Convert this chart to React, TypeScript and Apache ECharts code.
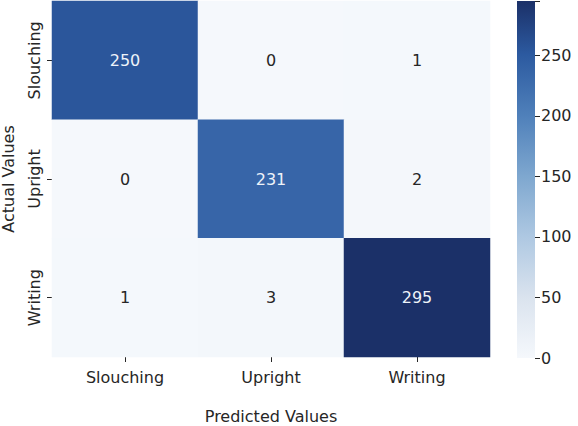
import React, { useEffect, useRef } from "react";
import * as echarts from "echarts";

const categories = ["Slouching", "Upright", "Writing"];
// rows = actual, columns = predicted
const matrix = [
  [250, 0, 1],
  [0, 231, 2],
  [1, 3, 295],
];
const colorMin = 0;
const colorMax = 295;
const colorTicks = [0, 50, 100, 150, 200, 250];
const colorStops = [0, 0.17, 0.34, 0.51, 0.68, 0.85, 1];
const colorValues = ["#f5f8fc", "#dae3ee", "#aec8e2", "#7ea7cf", "#4f80ba", "#2c5aa0", "#1b3068"];

export default function App() {
  const ref = useRef<HTMLDivElement>(null);
  useEffect(() => {
    if (!ref.current) return;
    const chart = echarts.init(ref.current, undefined, { renderer: "svg" });
    const data: any[] = [];
    matrix.forEach((row, r) => {
      row.forEach((v, c) => {
        data.push({
          value: [c, r, v],
          label: { color: v > colorMax / 2 ? "#eef3f9" : "#262626" },
        });
      });
    });
    const font = "DejaVu Sans";
    const textColor = "#262626";
    chart.setOption({
      animation: false,
      backgroundColor: "#ffffff",
      textStyle: { fontFamily: font },
      grid: [
        { left: 52, top: 1, width: 438, height: 356, outerBoundsMode: "none", containLabel: false },
        { left: 517, top: 1, width: 18, height: 357, outerBoundsMode: "none", containLabel: false },
      ],
      xAxis: [
        {
          type: "category",
          gridIndex: 0,
          data: categories,
          name: "Predicted Values",
          nameLocation: "middle",
          nameGap: 51,
          nameTextStyle: { fontFamily: font, fontSize: 16, color: textColor },
          axisLine: { show: false },
          axisTick: { show: true, alignWithLabel: true, length: 5, lineStyle: { color: textColor } },
          axisLabel: { fontFamily: font, fontSize: 16, color: textColor, margin: 12 },
          splitLine: { show: false },
        },
        {
          type: "category",
          gridIndex: 1,
          data: [""],
          show: false,
        },
      ],
      yAxis: [
        {
          type: "category",
          gridIndex: 0,
          data: categories,
          inverse: true,
          name: "Actual Values",
          nameLocation: "middle",
          nameGap: 36,
          nameRotate: 90,
          nameTextStyle: { fontFamily: font, fontSize: 16, color: textColor },
          axisLine: { show: false },
          axisTick: { show: true, alignWithLabel: true, length: 5, lineStyle: { color: textColor } },
          axisLabel: { fontFamily: font, fontSize: 16, color: textColor, rotate: 90, margin: 10 },
          splitLine: { show: false },
        },
        {
          type: "value",
          gridIndex: 1,
          position: "right",
          min: colorMin,
          max: colorMax,
          interval: 50,
          axisLine: { show: false },
          axisTick: { show: true, length: 5, lineStyle: { color: textColor } },
          axisLabel: {
            fontFamily: font,
            fontSize: 16,
            color: textColor,
            margin: 6,
            formatter: (v: number) => (colorTicks.includes(v) ? String(v) : ""),
          },
          splitLine: { show: false },
        },
      ],
      visualMap: {
        show: false,
        type: "continuous",
        seriesIndex: 0,
        min: colorMin,
        max: colorMax,
        dimension: 2,
        inRange: { color: colorValues },
      },
      series: [
        {
          type: "heatmap",
          xAxisIndex: 0,
          yAxisIndex: 0,
          data,
          label: { show: true, fontFamily: font, fontSize: 16 },
          itemStyle: { borderWidth: 0 },
          emphasis: { disabled: true },
        },
        {
          type: "bar",
          xAxisIndex: 1,
          yAxisIndex: 1,
          data: [colorMax],
          barWidth: "100%",
          barCategoryGap: 0,
          itemStyle: {
            color: new echarts.graphic.LinearGradient(
              0, 1, 0, 0,
              colorValues.map((c, i) => ({ offset: colorStops[i], color: c }))
            ),
          },
          emphasis: { disabled: true },
        },
      ],
    });
    return () => chart.dispose();
  }, []);
  return (
    <div
      ref={ref}
      style={{ position: "fixed", left: 0, top: 0, width: 578, height: 426 }}
    />
  );
}
